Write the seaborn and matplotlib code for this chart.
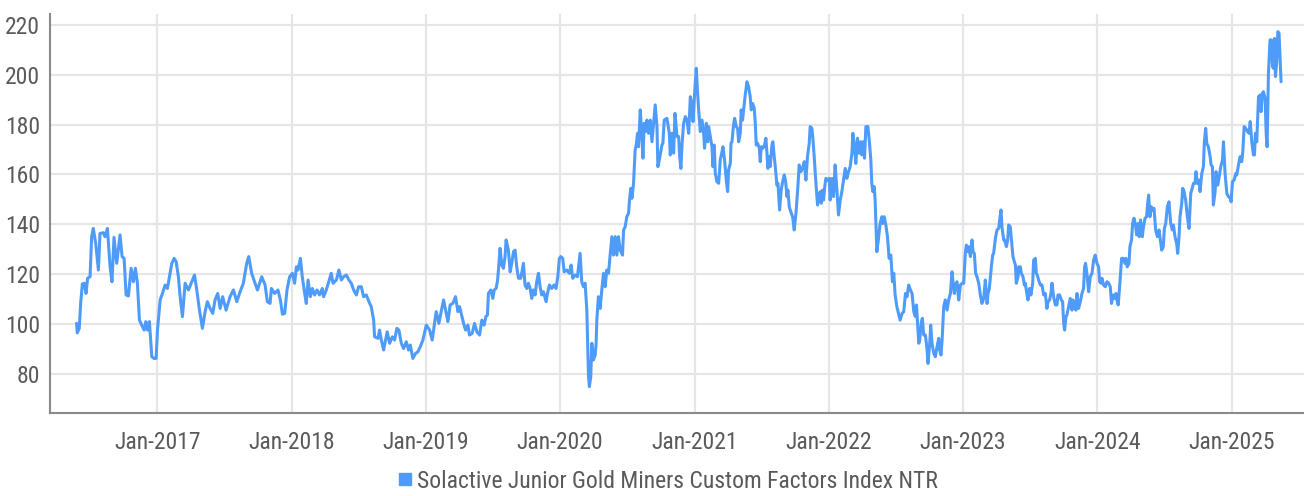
import numpy as np
import pandas as pd
import matplotlib
matplotlib.use('Agg')
import matplotlib.pyplot as plt
import matplotlib.dates as mdates
from matplotlib import font_manager as fm
from matplotlib.lines import Line2D
import seaborn as sns

# values (decimal year, index level)
dec_year = [
    2016.399, 2016.404, 2016.419, 2016.429, 2016.442, 2016.456, 2016.469, 2016.481, 2016.499, 2016.511,
    2016.523, 2016.541, 2016.561, 2016.573, 2016.598, 2016.610, 2016.628, 2016.648, 2016.662, 2016.677,
    2016.697, 2016.722, 2016.737, 2016.752, 2016.767, 2016.784, 2016.804, 2016.821, 2016.836, 2016.851,
    2016.866, 2016.883, 2016.901, 2016.913, 2016.926, 2016.940, 2016.958, 2016.975, 2016.990, 2017.000,
    2017.020, 2017.037, 2017.057, 2017.074, 2017.107, 2017.124, 2017.139, 2017.156, 2017.169, 2017.186,
    2017.206, 2017.231, 2017.256, 2017.276, 2017.293, 2017.313, 2017.335, 2017.355, 2017.372, 2017.392,
    2017.412, 2017.429, 2017.449, 2017.467, 2017.486, 2017.511, 2017.541, 2017.566, 2017.591, 2017.616,
    2017.640, 2017.665, 2017.680, 2017.702, 2017.727, 2017.745, 2017.777, 2017.802, 2017.819, 2017.839,
    2017.849, 2017.873, 2017.898, 2017.916, 2017.931, 2017.948, 2017.965, 2017.985, 2018.005, 2018.022,
    2018.035, 2018.047, 2018.065, 2018.079, 2018.097, 2018.109, 2018.122, 2018.139, 2018.154, 2018.171,
    2018.189, 2018.208, 2018.228, 2018.238, 2018.258, 2018.276, 2018.295, 2018.308, 2018.333, 2018.352,
    2018.370, 2018.387, 2018.407, 2018.427, 2018.444, 2018.462, 2018.482, 2018.499, 2018.519, 2018.536,
    2018.556, 2018.576, 2018.593, 2018.611, 2018.618, 2018.643, 2018.655, 2018.668, 2018.685, 2018.700,
    2018.712, 2018.730, 2018.750, 2018.767, 2018.784, 2018.799, 2018.817, 2018.834, 2018.854, 2018.871,
    2018.884, 2018.903, 2018.923, 2018.941, 2018.958, 2018.978, 2019.003, 2019.028, 2019.047, 2019.065,
    2019.077, 2019.097, 2019.114, 2019.132, 2019.147, 2019.164, 2019.181, 2019.201, 2019.221, 2019.239,
    2019.251, 2019.263, 2019.281, 2019.296, 2019.313, 2019.325, 2019.345, 2019.363, 2019.380, 2019.400,
    2019.417, 2019.434, 2019.447, 2019.459, 2019.466, 2019.484, 2019.499, 2019.509, 2019.523, 2019.533,
    2019.541, 2019.553, 2019.566, 2019.578, 2019.590, 2019.598, 2019.615, 2019.628, 2019.640, 2019.653,
    2019.665, 2019.677, 2019.690, 2019.707, 2019.727, 2019.739, 2019.752, 2019.764, 2019.777, 2019.789,
    2019.801, 2019.814, 2019.826, 2019.839, 2019.851, 2019.863, 2019.876, 2019.896, 2019.906, 2019.921,
    2019.938, 2019.955, 2019.970, 2019.983, 2019.995, 2020.005, 2020.020, 2020.030, 2020.050, 2020.069,
    2020.082, 2020.094, 2020.112, 2020.129, 2020.149, 2020.161, 2020.174, 2020.186, 2020.199, 2020.206,
    2020.211, 2020.218, 2020.228, 2020.236, 2020.248, 2020.261, 2020.268, 2020.273, 2020.285, 2020.298,
    2020.310, 2020.323, 2020.335, 2020.347, 2020.360, 2020.372, 2020.385, 2020.397, 2020.410, 2020.422,
    2020.434, 2020.447, 2020.464, 2020.472, 2020.484, 2020.496, 2020.509, 2020.516, 2020.526, 2020.534,
    2020.546, 2020.558, 2020.566, 2020.576, 2020.583, 2020.596, 2020.608, 2020.616, 2020.625, 2020.635,
    2020.645, 2020.658, 2020.670, 2020.683, 2020.695, 2020.707, 2020.720, 2020.727, 2020.740, 2020.757,
    2020.764, 2020.774, 2020.794, 2020.812, 2020.819, 2020.831, 2020.844, 2020.854, 2020.869, 2020.881,
    2020.889, 2020.898, 2020.906, 2020.918, 2020.931, 2020.943, 2020.956, 2020.968, 2020.980, 2020.988,
    2021.000, 2021.012, 2021.022, 2021.030, 2021.042, 2021.055, 2021.067, 2021.074, 2021.087, 2021.097,
    2021.104, 2021.117, 2021.129, 2021.137, 2021.146, 2021.154, 2021.166, 2021.179, 2021.191, 2021.204,
    2021.211, 2021.223, 2021.236, 2021.246, 2021.253, 2021.266, 2021.271, 2021.278, 2021.290, 2021.298,
    2021.310, 2021.320, 2021.328, 2021.340, 2021.347, 2021.357, 2021.365, 2021.377, 2021.390, 2021.402,
    2021.414, 2021.422, 2021.432, 2021.444, 2021.452, 2021.459, 2021.469, 2021.482, 2021.489, 2021.496,
    2021.509, 2021.521, 2021.531, 2021.539, 2021.546, 2021.556, 2021.563, 2021.576, 2021.583, 2021.593,
    2021.601, 2021.613, 2021.621, 2021.633, 2021.645, 2021.658, 2021.668, 2021.678, 2021.688, 2021.695,
    2021.705, 2021.720, 2021.730, 2021.742, 2021.755, 2021.767, 2021.779, 2021.792, 2021.804, 2021.817,
    2021.829, 2021.841, 2021.854, 2021.861, 2021.874, 2021.881, 2021.891, 2021.903, 2021.916, 2021.923,
    2021.936, 2021.943, 2021.953, 2021.961, 2021.968, 2021.978, 2021.990, 2022.003, 2022.010, 2022.023,
    2022.035, 2022.047, 2022.060, 2022.072, 2022.085, 2022.097, 2022.109, 2022.122, 2022.134, 2022.147,
    2022.159, 2022.172, 2022.179, 2022.189, 2022.201, 2022.214, 2022.226, 2022.239, 2022.246, 2022.256,
    2022.266, 2022.276, 2022.291, 2022.303, 2022.313, 2022.320, 2022.328, 2022.338, 2022.345, 2022.358,
    2022.370, 2022.382, 2022.395, 2022.402, 2022.412, 2022.425, 2022.437, 2022.449, 2022.462, 2022.474,
    2022.484, 2022.494, 2022.507, 2022.519, 2022.531, 2022.546, 2022.558, 2022.571, 2022.583, 2022.595,
    2022.608, 2022.620, 2022.633, 2022.645, 2022.653, 2022.662, 2022.670, 2022.677, 2022.690, 2022.697,
    2022.707, 2022.720, 2022.732, 2022.739, 2022.752, 2022.759, 2022.769, 2022.782, 2022.794, 2022.806,
    2022.819, 2022.826, 2022.836, 2022.844, 2022.856, 2022.868, 2022.881, 2022.893, 2022.906, 2022.918,
    2022.926, 2022.935, 2022.948, 2022.955, 2022.968, 2022.980, 2022.993, 2023.005, 2023.017, 2023.025,
    2023.035, 2023.042, 2023.055, 2023.067, 2023.074, 2023.084, 2023.094, 2023.104, 2023.117, 2023.129,
    2023.141, 2023.154, 2023.166, 2023.179, 2023.186, 2023.196, 2023.204, 2023.211, 2023.221, 2023.228,
    2023.241, 2023.253, 2023.266, 2023.273, 2023.283, 2023.290, 2023.303, 2023.310, 2023.323, 2023.333,
    2023.340, 2023.352, 2023.365, 2023.372, 2023.382, 2023.390, 2023.397, 2023.410, 2023.414, 2023.427,
    2023.434, 2023.447, 2023.457, 2023.464, 2023.477, 2023.484, 2023.496, 2023.506, 2023.519, 2023.526,
    2023.539, 2023.546, 2023.553, 2023.563, 2023.576, 2023.588, 2023.601, 2023.613, 2023.625, 2023.633,
    2023.645, 2023.655, 2023.663, 2023.675, 2023.688, 2023.700, 2023.707, 2023.720, 2023.732, 2023.742,
    2023.750, 2023.757, 2023.767, 2023.774, 2023.787, 2023.799, 2023.812, 2023.819, 2023.831, 2023.841,
    2023.849, 2023.861, 2023.874, 2023.886, 2023.898, 2023.906, 2023.913, 2023.923, 2023.936, 2023.948,
    2023.961, 2023.973, 2023.985, 2023.998, 2024.010, 2024.018, 2024.028, 2024.035, 2024.047, 2024.060,
    2024.072, 2024.085, 2024.097, 2024.106, 2024.119, 2024.131, 2024.139, 2024.149, 2024.156, 2024.169,
    2024.181, 2024.193, 2024.206, 2024.213, 2024.223, 2024.236, 2024.243, 2024.255, 2024.263, 2024.273,
    2024.283, 2024.293, 2024.305, 2024.312, 2024.322, 2024.335, 2024.342, 2024.355, 2024.367, 2024.375,
    2024.382, 2024.392, 2024.402, 2024.412, 2024.422, 2024.434, 2024.447, 2024.459, 2024.471, 2024.479,
    2024.491, 2024.499, 2024.509, 2024.521, 2024.533, 2024.546, 2024.558, 2024.566, 2024.578, 2024.590,
    2024.598, 2024.608, 2024.615, 2024.628, 2024.635, 2024.645, 2024.657, 2024.670, 2024.682, 2024.695,
    2024.702, 2024.715, 2024.727, 2024.734, 2024.744, 2024.757, 2024.764, 2024.777, 2024.789, 2024.796,
    2024.806, 2024.814, 2024.826, 2024.839, 2024.846, 2024.856, 2024.863, 2024.876, 2024.883, 2024.896,
    2024.906, 2024.918, 2024.931, 2024.938, 2024.950, 2024.963, 2024.975, 2024.988, 2024.995, 2025.005,
    2025.017, 2025.030, 2025.037, 2025.050, 2025.062, 2025.074, 2025.082, 2025.092, 2025.104, 2025.117,
    2025.129, 2025.137, 2025.149, 2025.161, 2025.169, 2025.176, 2025.186, 2025.199, 2025.211, 2025.218,
    2025.228, 2025.236, 2025.248, 2025.256, 2025.263, 2025.273, 2025.285, 2025.295, 2025.303, 2025.310,
    2025.318, 2025.325, 2025.335, 2025.343, 2025.352, 2025.360, 2025.367,
]

index_value = [
    100.2, 96.4, 98.2, 108.2, 116.0, 116.3, 112.2, 118.3, 118.9, 135.0,
    138.3, 132.3, 121.6, 136.3, 136.6, 135.0, 138.3, 122.9, 116.9, 134.7,
    124.3, 135.7, 127.0, 126.3, 111.6, 111.2, 122.3, 116.9, 122.3, 116.3,
    101.5, 99.5, 97.5, 100.9, 97.5, 100.9, 86.8, 86.1, 86.1, 97.5,
    109.6, 112.2, 115.6, 114.2, 124.3, 126.3, 125.0, 118.9, 110.9, 102.9,
    116.3, 113.6, 116.9, 119.6, 113.6, 105.5, 98.2, 104.9, 108.9, 106.2,
    104.2, 109.6, 112.2, 106.2, 110.9, 105.5, 110.9, 113.6, 108.9, 112.9,
    116.3, 124.3, 127.0, 120.3, 116.3, 113.6, 118.9, 115.6, 108.9, 108.2,
    114.2, 112.2, 113.6, 109.6, 103.9, 104.2, 113.6, 118.9, 120.3, 116.3,
    122.9, 121.6, 126.3, 118.9, 112.2, 108.2, 117.6, 110.9, 114.2, 111.6,
    113.6, 111.6, 114.2, 110.9, 113.6, 116.9, 120.3, 116.3, 117.6, 121.6,
    117.6, 118.9, 119.6, 117.6, 116.3, 113.6, 111.6, 114.9, 114.9, 110.9,
    111.6, 108.9, 106.9, 101.5, 94.8, 94.2, 97.5, 93.5, 89.5, 93.5,
    96.8, 92.2, 94.8, 93.5, 98.2, 97.5, 92.2, 90.1, 92.8, 89.5,
    91.5, 86.1, 88.1, 88.8, 90.8, 93.5, 99.5, 97.5, 93.5, 100.2,
    104.9, 100.2, 104.9, 109.6, 105.5, 100.9, 107.6, 108.2, 110.9, 104.9,
    106.9, 104.2, 100.2, 97.5, 99.5, 95.5, 96.2, 100.2, 96.8, 95.5,
    101.5, 99.5, 102.9, 103.5, 112.2, 113.6, 110.2, 113.6, 114.2, 116.9,
    121.6, 130.3, 123.6, 122.3, 127.0, 133.7, 129.6, 120.9, 124.3, 129.0,
    129.6, 122.9, 118.3, 118.3, 124.3, 115.6, 114.2, 116.3, 114.2, 110.2,
    113.6, 111.6, 116.9, 120.3, 114.9, 111.6, 112.9, 108.9, 112.2, 115.6,
    114.2, 115.6, 114.2, 118.9, 126.3, 127.0, 126.3, 120.9, 121.6, 120.3,
    123.6, 118.3, 119.6, 118.9, 128.3, 116.9, 114.9, 116.3, 105.5, 89.5,
    79.4, 74.8, 78.8, 92.2, 85.5, 87.5, 92.2, 101.5, 110.9, 106.2,
    113.6, 120.3, 114.9, 121.6, 120.3, 127.6, 135.0, 127.6, 135.0, 127.6,
    135.0, 129.6, 127.6, 137.7, 139.0, 143.0, 144.4, 149.7, 154.4, 150.4,
    156.4, 169.8, 171.8, 176.5, 171.1, 185.9, 175.2, 166.5, 180.5, 177.2,
    181.8, 176.5, 181.8, 173.1, 180.5, 187.9, 179.2, 163.1, 166.5, 171.8,
    172.5, 181.8, 182.5, 176.5, 167.8, 176.5, 168.5, 184.5, 175.2, 175.2,
    167.1, 162.4, 171.8, 180.5, 183.2, 181.8, 176.5, 191.2, 187.9, 181.2,
    192.6, 202.6, 192.6, 185.9, 177.2, 181.8, 176.5, 170.5, 180.5, 173.1,
    179.2, 175.2, 171.1, 163.1, 171.8, 160.4, 157.1, 156.4, 165.8, 169.1,
    171.1, 165.8, 157.7, 153.1, 161.8, 164.4, 172.5, 173.1, 179.8, 182.5,
    179.2, 178.5, 173.1, 176.5, 185.9, 181.8, 185.9, 191.9, 197.2, 195.2,
    191.2, 185.9, 188.5, 186.5, 180.5, 171.8, 172.5, 170.5, 165.1, 171.1,
    170.5, 171.8, 174.5, 168.5, 162.4, 167.1, 163.1, 171.8, 173.1, 167.1,
    163.1, 155.7, 156.4, 145.7, 153.7, 157.7, 159.8, 157.1, 151.1, 153.7,
    147.0, 144.4, 143.0, 137.7, 144.4, 153.1, 163.8, 161.1, 162.4, 165.1,
    157.7, 167.1, 172.5, 179.2, 178.5, 174.5, 167.1, 157.1, 147.7, 151.1,
    153.1, 148.4, 153.7, 149.7, 154.4, 158.4, 157.7, 158.4, 149.7, 158.4,
    151.1, 163.8, 153.7, 143.7, 149.7, 153.1, 157.7, 162.4, 158.4, 161.1,
    163.1, 168.5, 176.5, 172.5, 164.4, 174.5, 168.5, 173.1, 167.8, 173.1,
    166.5, 179.2, 179.2, 172.5, 165.8, 156.4, 153.1, 155.1, 149.7, 129.0,
    134.3, 140.3, 143.0, 140.3, 143.0, 139.7, 135.0, 126.3, 127.6, 116.9,
    120.3, 111.6, 106.9, 104.2, 101.5, 104.2, 104.9, 112.2, 110.9, 115.6,
    113.6, 112.2, 104.9, 102.9, 107.6, 99.5, 92.2, 93.5, 100.9, 102.2,
    95.5, 95.5, 89.5, 84.1, 92.2, 99.5, 92.2, 88.1, 86.8, 90.8,
    94.2, 89.5, 87.5, 93.5, 106.9, 109.6, 105.5, 109.6, 112.2, 120.9,
    116.3, 112.2, 116.3, 116.9, 109.6, 115.6, 116.3, 116.3, 128.3, 131.6,
    129.0, 131.0, 127.0, 133.7, 129.0, 128.3, 120.3, 118.9, 116.3, 111.6,
    108.2, 110.2, 117.6, 108.2, 112.2, 114.2, 118.9, 122.9, 127.6, 128.3,
    134.3, 137.7, 138.3, 141.7, 145.7, 139.0, 133.7, 133.7, 131.0, 133.7,
    139.7, 139.0, 131.0, 127.0, 125.0, 123.6, 116.3, 118.9, 122.9, 122.9,
    120.3, 118.9, 115.6, 116.3, 111.6, 109.6, 114.2, 111.6, 116.3, 125.6,
    126.3, 120.3, 119.6, 117.6, 115.6, 115.6, 111.6, 112.2, 106.2, 108.9,
    109.6, 112.2, 116.3, 110.9, 107.6, 107.6, 111.6, 111.6, 109.6, 108.9,
    100.2, 97.5, 102.9, 103.5, 106.9, 110.2, 105.5, 109.6, 108.2, 105.5,
    112.2, 106.2, 108.9, 112.2, 114.2, 122.9, 124.3, 120.3, 112.9, 118.9,
    120.3, 125.6, 127.6, 124.3, 122.9, 116.9, 116.3, 118.3, 115.6, 114.9,
    116.9, 116.3, 114.9, 108.2, 111.6, 110.2, 112.2, 108.9, 107.6, 116.9,
    126.3, 126.3, 124.3, 126.3, 122.9, 124.3, 131.0, 133.7, 140.3, 142.4,
    140.3, 135.7, 140.3, 135.0, 141.7, 135.0, 138.3, 142.4, 143.0, 148.4,
    151.7, 143.0, 147.0, 145.7, 146.4, 137.7, 135.0, 137.7, 133.0, 129.6,
    131.0, 138.3, 140.3, 147.0, 149.0, 140.3, 137.7, 139.7, 135.0, 132.3,
    128.3, 135.0, 143.0, 148.4, 154.4, 153.1, 149.7, 143.0, 138.3, 152.4,
    153.7, 156.4, 156.4, 161.1, 156.4, 157.7, 153.1, 160.4, 163.1, 173.1,
    178.5, 172.5, 171.1, 167.1, 163.8, 163.1, 147.7, 153.1, 161.1, 155.7,
    159.1, 163.1, 165.8, 173.1, 160.4, 152.4, 151.1, 150.4, 149.0, 157.1,
    157.7, 160.4, 159.8, 163.8, 167.1, 165.1, 169.1, 179.2, 178.5, 177.2,
    176.5, 181.2, 173.1, 167.8, 167.8, 176.5, 173.1, 191.2, 191.9, 185.2,
    192.6, 193.2, 190.5, 176.5, 171.1, 200.6, 214.0, 214.0, 203.3, 202.6,
    214.6, 199.3, 205.3, 217.3, 216.7, 205.9, 197.2,
]

series_name = 'Solactive Junior Gold Miners Custom Factors Index NTR'
tick_years = [2017, 2018, 2019, 2020, 2021, 2022, 2023, 2024, 2025]
y_ticks = [80, 100, 120, 140, 160, 180, 200, 220]


def to_date(y):
    year = int(np.floor(y))
    start = pd.Timestamp(year=year, month=1, day=1)
    days = (pd.Timestamp(year=year + 1, month=1, day=1) - start).days
    return start + pd.Timedelta(days=(y - year) * days)


df = pd.DataFrame({'date': [to_date(y) for y in dec_year], 'value': index_value})

line_color = '#4F9BFA'
text_color = '#5a5a5a'

sns.set_style('white')
names = {f.name for f in fm.fontManager.ttflist}
family = 'DejaVu Sans'
for cand in ['Roboto Condensed', 'Liberation Sans Narrow', 'Open Sans Condensed', 'DejaVu Sans Condensed']:
    if cand in names:
        family = cand
        break
plt.rcParams['font.family'] = [family, 'DejaVu Sans']

fig = plt.figure(figsize=(13.04, 4.96), dpi=100)
ax = fig.add_axes([0.0383, 0.1673, 0.9617, 0.8045])

sns.lineplot(data=df, x='date', y='value', ax=ax, color=line_color, linewidth=2.2, legend=False)

ax.set_xlim(to_date(2016.201), to_date(2025.538))
ax.set_ylim(64.2, 224.4)
ax.set_yticks(y_ticks)
ax.set_xticks([pd.Timestamp(year=y, month=1, day=1) for y in tick_years])
ax.xaxis.set_major_formatter(mdates.DateFormatter('%b-%Y'))

ax.grid(True, color='#e6e6e6', linewidth=1.6)
ax.set_axisbelow(True)
ax.set_xlabel('')
ax.set_ylabel('')
for s in ['top', 'right']:
    ax.spines[s].set_visible(False)
for s in ['left', 'bottom']:
    ax.spines[s].set_color('#8a8a8a')
    ax.spines[s].set_linewidth(1.5)
ax.tick_params(axis='both', length=0, labelsize=17, colors=text_color)
ax.tick_params(axis='x', pad=13)
ax.tick_params(axis='y', pad=7)

handle = Line2D([], [], marker='s', linestyle='', color=line_color, markersize=9)
fig.legend([handle], [series_name], loc='center', bbox_to_anchor=(0.511, 0.03),
           frameon=False, fontsize=17, labelcolor=text_color, handletextpad=0.1, handlelength=0.8)

fig.savefig('out.png', dpi=100)
